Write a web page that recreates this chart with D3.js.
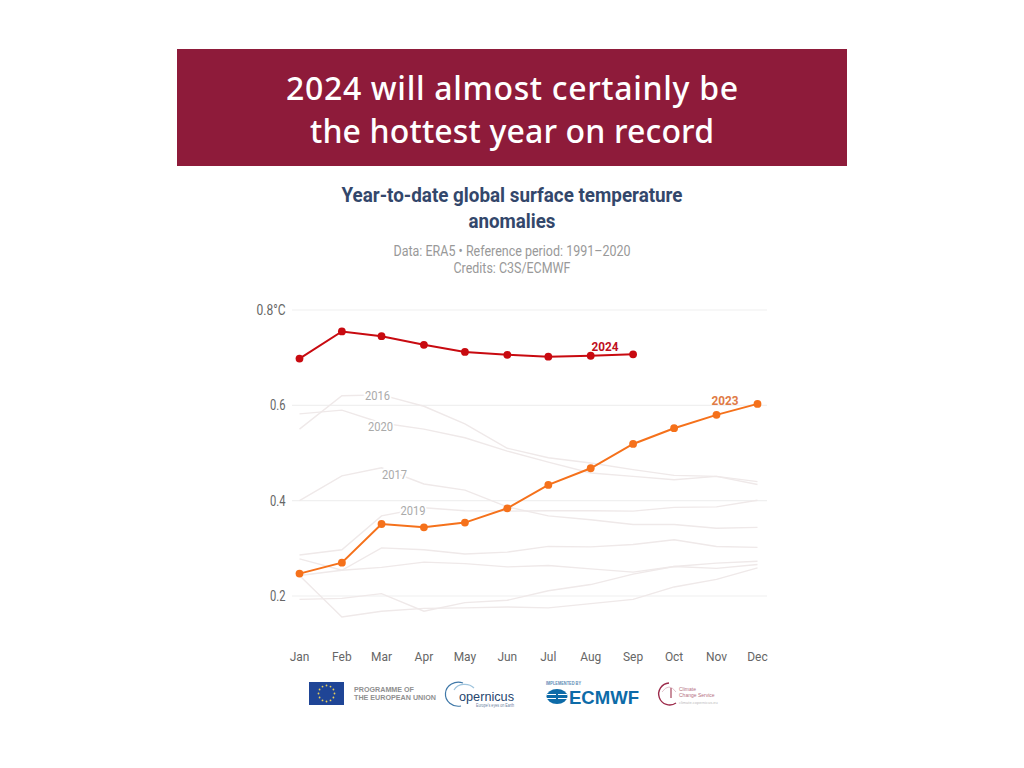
<!DOCTYPE html>
<html><head><meta charset="utf-8">
<style>html,body{margin:0;padding:0;background:#fff}svg{display:block}text{font-family:Roboto,sans-serif}</style>
<script src="https://cdn.jsdelivr.net/npm/d3@7"></script></head>
<body><svg id="c" width="1024" height="768"></svg>
<script>
const monthLabels=["Jan","Feb","Mar","Apr","May","Jun","Jul","Aug","Sep","Oct","Nov","Dec"];
const values2024=[0.698,0.755,0.745,0.727,0.712,0.706,0.702,0.704,0.707];
const values2023=[0.247,0.270,0.351,0.344,0.354,0.384,0.433,0.468,0.519,0.552,0.580,0.603];
const values2016=[0.550,0.620,0.622,0.598,0.561,0.510,0.490,0.479,0.465,0.453,0.451,0.440];
const values2020=[0.582,0.590,0.563,0.550,0.532,0.504,0.481,0.458,0.451,0.444,0.451,0.434];
const values2017=[0.400,0.452,0.469,0.435,0.422,0.387,0.368,0.360,0.350,0.350,0.342,0.344];
const values2019=[0.286,0.297,0.368,0.385,0.379,0.378,0.379,0.379,0.378,0.386,0.387,0.401];
const valuesOtherA=[0.278,0.254,0.301,0.297,0.288,0.292,0.304,0.303,0.308,0.318,0.304,0.302];
const valuesOtherB=[0.243,0.254,0.260,0.271,0.268,0.261,0.264,0.257,0.250,0.262,0.258,0.266];
const valuesOtherC=[0.243,0.156,0.168,0.174,0.175,0.177,0.175,0.184,0.193,0.219,0.235,0.259];
const valuesOtherD=[0.193,0.195,0.205,0.168,0.186,0.191,0.211,0.224,0.246,0.262,0.269,0.273];
const backgroundYears=[values2016,values2020,values2017,values2019,valuesOtherA,valuesOtherB,valuesOtherC,valuesOtherD];
const yTicks=[0.2,0.4,0.6,0.8];
const yearLabels=[{t:"2016",m:2,v:0.622},{t:"2020",m:2,v:0.556},{t:"2017",m:2,v:0.456},{t:"2019",m:3,v:0.381}];
const titleLines=["2024 will almost certainly be","the hottest year on record"];
const chartTitle=["Year-to-date global surface temperature","anomalies"];
const chartSub=["Data: ERA5 • Reference period: 1991–2020","Credits: C3S/ECMWF"];

const svg=d3.select("#c");
const dates=monthLabels.map((m,i)=>new Date(2024,i,1));
const x=d3.scaleTime().domain([dates[0],dates[11]]).range([299.5,757.5]);
const y=d3.scaleLinear().domain([0.2,0.8]).range([596,310]);

// banner
svg.append("rect").attr("x",177).attr("y",49).attr("width",670).attr("height",117).attr("fill","#8e1b3a");
const fit=(sel,w)=>sel.attr("textLength",w).attr("lengthAdjust","spacingAndGlyphs");
[[99.5,452],[142.5,404]].forEach((d,i)=>{
 svg.append("text").attr("x",512).attr("y",d[0]).attr("text-anchor","middle")
  .attr("font-size",32).attr("font-weight",500).attr("fill","#fff").style("font-family","'Noto Sans',sans-serif")
  .attr("textLength",d[1]).attr("lengthAdjust","spacing").text(titleLines[i]);
});
// chart titles
[[202,341],[228,87]].forEach((d,i)=>{
 fit(svg.append("text").attr("x",512).attr("y",d[0]).attr("text-anchor","middle")
  .attr("font-size",21).attr("font-weight",700).attr("fill","#33476b").text(chartTitle[i]),d[1]);
});
[[256,237],[273,117]].forEach((d,i)=>{
 fit(svg.append("text").attr("x",512).attr("y",d[0]).attr("text-anchor","middle")
  .attr("font-size",14.5).attr("fill","#999").text(chartSub[i]),d[1]);
});
// grid
svg.append("g").selectAll("line").data(yTicks).join("line")
 .attr("x1",292).attr("x2",767).attr("y1",d=>y(d)).attr("y2",d=>y(d))
 .attr("stroke","#f0f0f0").attr("stroke-width",1.2);
// y axis labels
svg.append("g").selectAll("text").data(yTicks).join("text")
 .attr("x",285.5).attr("y",d=>y(d)+5).attr("text-anchor","end")
 .attr("font-size",14).attr("fill","#666").text(d=>d===0.8?"0.8°C":d.toFixed(1))
 .each(function(d){d3.select(this).attr("textLength",d===0.8?29:15.5).attr("lengthAdjust","spacingAndGlyphs")});
// x axis labels
svg.append("g").selectAll("text").data(monthLabels).join("text")
 .attr("x",(d,i)=>x(dates[i])).attr("y",661).attr("text-anchor","middle")
 .attr("font-size",13).attr("fill","#666").text(d=>d)
 .attr("transform",(d,i)=>`translate(${x(dates[i])*0.08},0) scale(0.92,1)`);
const line=d3.line().x((d,i)=>x(dates[i])).y(d=>y(d));
// background years
svg.append("g").selectAll("path").data(backgroundYears).join("path")
 .attr("d",line).attr("fill","none").attr("stroke","#efe9e9").attr("stroke-width",1.4);
// year labels
const yl=svg.append("g").selectAll("text").data(yearLabels).join("text")
 .attr("x",d=>x(dates[d.m])+(d.t==="2019"?-11:d.t==="2016"?-4:d.t==="2017"?13:-1)).attr("y",d=>y(d.v)+5).attr("text-anchor","middle")
 .attr("font-size",13).attr("fill","#aaa").attr("stroke","#fff").attr("stroke-width",4).attr("paint-order","stroke").text(d=>d.t);
yl.each(function(){d3.select(this).attr("textLength",25).attr("lengthAdjust","spacingAndGlyphs")});
// highlighted
const hi=[{v:values2024,c:"#c80a10",n:"2024",lx:605,ly:350.5,tc:"#c00f1e"},{v:values2023,c:"#f5711b",n:"2023",lx:725,ly:405,tc:"#e07a45"}];
hi.forEach(h=>{
 svg.append("path").datum(h.v).attr("d",line).attr("fill","none").attr("stroke",h.c).attr("stroke-width",2);
 svg.append("g").selectAll("circle").data(h.v).join("circle")
  .attr("cx",(d,i)=>x(dates[i])).attr("cy",d=>y(d)).attr("r",3.9).attr("fill",h.c);
 fit(svg.append("text").attr("x",h.lx).attr("y",h.ly).attr("text-anchor","middle").attr("font-size",13)
  .attr("font-weight",700).attr("fill",h.tc).text(h.n),27);
});
// logos
const logos=svg.append("g");
logos.append("rect").attr("x",309).attr("y",682).attr("width",35).attr("height",23).attr("fill","#1f4596");
d3.range(12).forEach(i=>{const a=i*Math.PI/6;
 logos.append("circle").attr("cx",326.5+8*Math.cos(a)).attr("cy",693.5+8*Math.sin(a)).attr("r",0.9).attr("fill","#e8cf5a");});
["PROGRAMME OF","THE EUROPEAN UNION"].forEach((t,i)=>{
 logos.append("text").attr("x",354).attr("y",[691.5,699.5][i]).attr("font-size",7.5).attr("font-weight",700)
  .attr("fill","#909090").style("font-family","'Liberation Sans',sans-serif").attr("textLength",[60,82][i]).attr("lengthAdjust","spacingAndGlyphs").text(t);});
logos.append("path").attr("d","M463 683 A13 12 0 1 0 461 706").attr("fill","none").attr("stroke","#3f78a8").attr("stroke-width",1.2);
logos.append("path").attr("d","M454 690 A12 10 0 0 1 474 688").attr("fill","none").attr("stroke","#9fc4dd").attr("stroke-width",1.2);
logos.append("text").attr("x",459).attr("y",701).attr("font-size",13.5).attr("fill","#26456e").attr("textLength",55).attr("lengthAdjust","spacingAndGlyphs").style("font-family","'Liberation Sans',sans-serif").text("opernicus");
logos.append("text").attr("x",476).attr("y",707).attr("font-size",4.5).attr("fill","#6c7fa0").attr("textLength",38).attr("lengthAdjust","spacingAndGlyphs").style("font-family","'Liberation Sans',sans-serif").text("Europe's eyes on Earth");
logos.append("text").attr("x",546).attr("y",685).attr("font-size",4.5).attr("font-weight",700).attr("fill","#5b8cb5").attr("textLength",35).attr("lengthAdjust","spacingAndGlyphs").style("font-family","'Liberation Sans',sans-serif").text("IMPLEMENTED BY");
logos.append("ellipse").attr("cx",557).attr("cy",696.5).attr("rx",10.5).attr("ry",7.5).attr("fill","#0d6ba8");
logos.append("path").attr("d","M547 694.5 H556 M547 698.5 H556 M558 694.5 H567 M558 698.5 H567").attr("stroke","#fff").attr("stroke-width",1.2);
logos.append("text").attr("x",569).attr("y",703.5).attr("font-size",19).attr("font-weight",700).attr("fill","#0d6ba8").attr("textLength",70).attr("lengthAdjust","spacingAndGlyphs").style("font-family","'Liberation Sans',sans-serif").text("ECMWF");
logos.append("path").attr("d","M669 683 A11 11 0 1 0 676 703").attr("fill","none").attr("stroke","#9c2a4a").attr("stroke-width",1.4);
logos.append("path").attr("d","M662 692 Q669 682 676 692").attr("fill","none").attr("stroke","#d8b4be").attr("stroke-width",0.8);
logos.append("line").attr("x1",671).attr("x2",671).attr("y1",688).attr("y2",698).attr("stroke","#b86a7d").attr("stroke-width",1.5);
["Climate","Change Service"].forEach((t,i)=>{
 logos.append("text").attr("x",679).attr("y",[691,697][i]).attr("font-size",5).attr("fill","#b5707f").style("font-family","'Liberation Sans',sans-serif").text(t);});
logos.append("text").attr("x",679).attr("y",704).attr("font-size",4).attr("fill","#bbb").style("font-family","'Liberation Sans',sans-serif").text("climate.copernicus.eu");
</script></body></html>
